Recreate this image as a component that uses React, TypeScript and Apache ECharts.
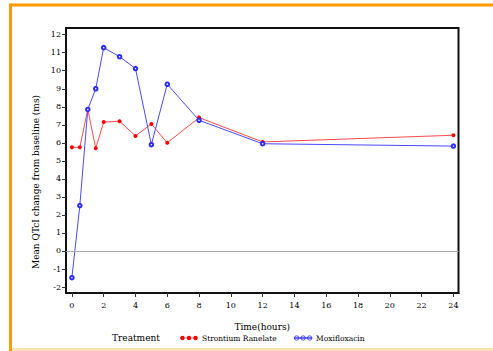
import React, { useEffect, useRef } from "react";
import * as echarts from "echarts";

const hours = [0, 0.5, 1, 1.5, 2, 3, 4, 5, 6, 8, 12, 24];
const strontium = [5.75, 5.75, 7.85, 5.7, 7.15, 7.2, 6.38, 7.05, 6.0, 7.4, 6.05, 6.42];
const moxifloxacin = [-1.48, 2.52, 7.85, 9.0, 11.28, 10.78, 10.12, 5.9, 9.25, 7.25, 5.95, 5.82];
const xTicks = [0, 2, 4, 6, 8, 10, 12, 14, 16, 18, 20, 22, 24];
const yTicks = [-2, -1, 0, 1, 2, 3, 4, 5, 6, 7, 8, 9, 10, 11, 12];

const FONT = "DejaVu Serif";
const RED = "#ff0000";
const BLUE = "#2b2bff";

const ICON =
  "path://M0 2.3 L18 2.3 L18 2.7 L0 2.7 Z M0.3 2.5 A2.2 2.2 0 1 1 4.7 2.5 A2.2 2.2 0 1 1 0.3 2.5 Z M6.8 2.5 A2.2 2.2 0 1 1 11.2 2.5 A2.2 2.2 0 1 1 6.8 2.5 Z M13.3 2.5 A2.2 2.2 0 1 1 17.7 2.5 A2.2 2.2 0 1 1 13.3 2.5 Z";

export default function App() {
  const ref = useRef<HTMLDivElement>(null);
  useEffect(() => {
    if (!ref.current) return;
    const chart = echarts.init(ref.current, undefined, { renderer: "svg" });
    const option: any = {
      animation: false,
      backgroundColor: "#ffffff",
      grid: {
        left: 66,
        right: 34.5,
        top: 28,
        bottom: 58,
        show: true,
        borderColor: "#111",
        borderWidth: 2,
        backgroundColor: "transparent",
      },
      xAxis: {
        type: "value",
        min: -0.37,
        max: 24.32,
        name: "Time(hours)",
        nameLocation: "middle",
        nameGap: 29,
        nameTextStyle: { fontFamily: FONT, fontSize: 9, color: "#000" },
        axisLine: { show: true, onZero: false, lineStyle: { color: "#111", width: 2 } },
        axisTick: { show: true, customValues: xTicks, length: 4, lineStyle: { color: "#333" } },
        axisLabel: { customValues: xTicks, margin: 8, fontFamily: FONT, fontSize: 8, color: "#000" },
        splitLine: { show: false },
      },
      yAxis: {
        type: "value",
        min: -2.33,
        max: 12.37,
        axisLine: { show: true, onZero: false, lineStyle: { color: "#111", width: 2 } },
        axisTick: { show: true, customValues: yTicks, length: 4, lineStyle: { color: "#333" } },
        axisLabel: { customValues: yTicks, margin: 5, fontFamily: FONT, fontSize: 8, color: "#000" },
        splitLine: { show: false },
      },
      legend: {
        left: 180,
        top: 334,
        padding: 0,
        itemWidth: 18,
        itemHeight: 5,
        itemGap: 17,
        selectedMode: false,
        textStyle: { fontFamily: FONT, fontSize: 7.5, color: "#000", padding: [0, 0, 0, -1] },
        data: [
          { name: "Strontium Ranelate", icon: ICON, itemStyle: { color: RED, borderWidth: 0 } },
          {
            name: "Moxifloxacin",
            icon: ICON,
            itemStyle: { color: "#ffffff", borderColor: BLUE, borderWidth: 0.8 },
          },
        ],
      },
      graphic: [
        {
          type: "text",
          x: 36,
          y: 182,
          rotation: Math.PI / 2,
          style: {
            text: "Mean QTcI change from baseline (ms)",
            fontFamily: FONT,
            fontSize: 9,
            fill: "#000",
            align: "center",
            verticalAlign: "middle",
          },
        },
        {
          type: "text",
          x: 112,
          y: 338,
          style: {
            text: "Treatment",
            fontFamily: FONT,
            fontSize: 9,
            fill: "#000",
            align: "left",
            verticalAlign: "middle",
          },
        },
        { type: "line", shape: { x1: 10.5, y1: 5, x2: 493, y2: 5 }, style: { stroke: "#ff9a00", lineWidth: 3 } },
        { type: "line", shape: { x1: 10.5, y1: 3.5, x2: 10.5, y2: 351 }, style: { stroke: "#ff9a00", lineWidth: 3 } },
        { type: "line", shape: { x1: 12, y1: 349.5, x2: 493, y2: 349.5 }, style: { stroke: "#ffe2b3", lineWidth: 3 } },
      ],
      series: [
        {
          name: "Strontium Ranelate",
          type: "line",
          data: hours.map((h, i) => [h, strontium[i]]),
          symbol: "circle",
          symbolSize: 4,
          lineStyle: { color: "#ff4a4a", width: 1 },
          itemStyle: { color: RED },
          z: 3,
          markLine: {
            silent: true,
            symbol: "none",
            label: { show: false },
            lineStyle: { color: "#aaaaaa", width: 1, type: "solid" },
            data: [{ yAxis: 0 }],
          },
        },
        {
          name: "Moxifloxacin",
          type: "line",
          data: hours.map((h, i) => [h, moxifloxacin[i]]),
          symbol: "emptyCircle",
          symbolSize: 3.5,
          showAllSymbol: true,
          lineStyle: { color: "#4a4aff", width: 1 },
          itemStyle: { color: BLUE, borderColor: BLUE, borderWidth: 0.8 },
          z: 4,
        },
      ],
    };
    chart.setOption(option);
    return () => chart.dispose();
  }, []);
  return (
    <div
      ref={ref}
      style={{ position: "absolute", left: 0, top: 0, width: 493, height: 351, background: "#fff" }}
    />
  );
}
